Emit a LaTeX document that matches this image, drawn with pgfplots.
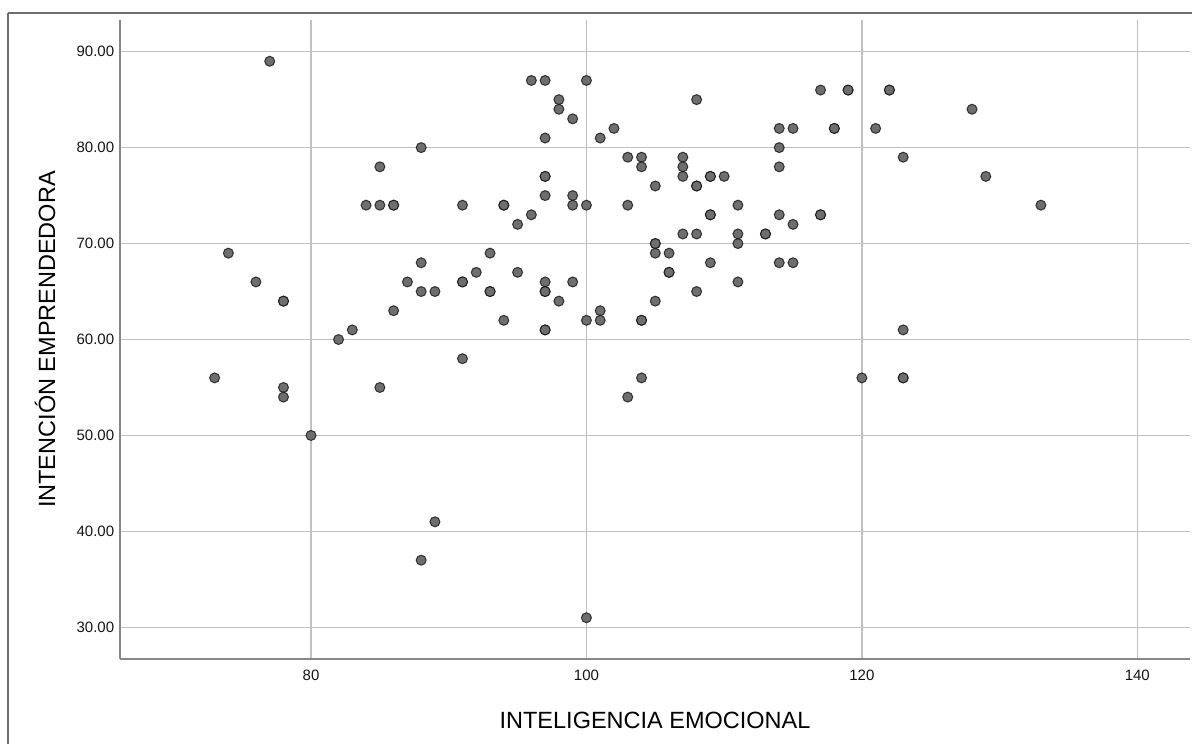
\documentclass[border=0pt]{standalone}
\usepackage{fontspec}
\setmainfont{Liberation Sans}
\usepackage{pgfplots}
\pgfplotsset{compat=1.18}

\definecolor{frameg}{RGB}{110,110,110}
\definecolor{spineg}{RGB}{135,135,135}
\definecolor{gridg}{RGB}{192,192,192}
\definecolor{markg}{RGB}{110,110,110}
\definecolor{tickc}{RGB}{20,20,20}

\begin{document}
\begin{tikzpicture}
% outer frame of the output window (only top and left edges fall inside)
\draw[frameg, line width=1.2bp] (8bp,-13bp) -- (1300bp,-13bp);
\draw[frameg, line width=1.2bp] (8bp,-13bp) -- (8bp,-800bp);

\begin{axis}[
    at={(120bp,-659bp)}, anchor=south west,
    scale only axis,
    width=1070bp, height=639bp,
    xmin=66.13, xmax=143.83,
    ymin=26.70, ymax=93.30,
    axis x line=bottom, axis y line=left,
    axis line style={-, spineg, line width=1.5bp},
    xtick={80,100,120,140},
    ytick={30,40,50,60,70,80,90},
    major tick length=0pt,
    grid=major,
    major grid style={gridg, line width=1.3bp},
    /pgf/number format/assume math mode=true,
    tick label style={font=\fontsize{15bp}{18bp}\selectfont, text=tickc},
    xticklabel style={yshift=-7.5bp},
    yticklabel style={xshift=-2.3bp, /pgf/number format/.cd, fixed, fixed zerofill, precision=2},
    xlabel={INTELIGENCIA EMOCIONAL},
    ylabel={INTENCIÓN EMPRENDEDORA},
    label style={font=\fontsize{23.5bp}{28bp}\selectfont},
    xlabel style={at={(axis description cs:0.5,-0.0955)}, anchor=center},
    ylabel style={at={(axis description cs:-0.0701,0.5)}, anchor=center},
]

% IE vs IEmp, repeated pairs listed twice
\addplot[only marks, mark=*, mark size=5bp,
    mark options={fill=markg, draw=black, draw opacity=0.7, line width=1bp}]
coordinates {
    (73,56) (74,69) (76,66) (77,89) (78,64) (78,64) (78,55) (78,54)
    (80,50) (82,60) (83,61) (84,74) (85,78) (85,74) (85,55)
    (86,74) (86,74) (86,63) (87,66) (88,80) (88,68) (88,65) (88,37)
    (89,65) (89,41) (91,74) (91,66) (91,66) (91,58) (92,67) (93,69)
    (93,65) (93,65) (94,74) (94,74) (94,62) (95,72) (95,67)
    (96,87) (96,73) (97,87) (97,81) (97,77) (97,77) (97,75) (97,66)
    (97,65) (97,65) (97,61) (97,61) (98,85) (98,84) (98,64)
    (99,83) (99,75) (99,74) (99,66) (100,87) (100,74) (100,62) (100,31)
    (101,81) (101,63) (101,62) (102,82) (103,79) (103,74) (103,54)
    (104,79) (104,78) (104,62) (104,62) (104,56)
    (105,76) (105,70) (105,70) (105,69) (105,64) (106,69) (106,67) (106,67)
    (107,79) (107,78) (107,77) (107,71) (108,85) (108,76) (108,76) (108,71) (108,65)
    (109,77) (109,77) (109,73) (109,73) (109,68) (110,77)
    (111,74) (111,71) (111,70) (111,66) (113,71) (113,71)
    (114,82) (114,80) (114,78) (114,73) (114,68) (115,82) (115,72) (115,68)
    (117,86) (117,73) (117,73) (118,82) (118,82) (119,86) (119,86)
    (120,56) (121,82) (122,86) (122,86) (123,79) (123,61) (123,56) (123,56)
    (128,84) (129,77) (133,74)
};
\end{axis}

\pgfresetboundingbox
\useasboundingbox (0bp,0bp) rectangle (1192bp,-744bp);
\end{tikzpicture}
\end{document}
